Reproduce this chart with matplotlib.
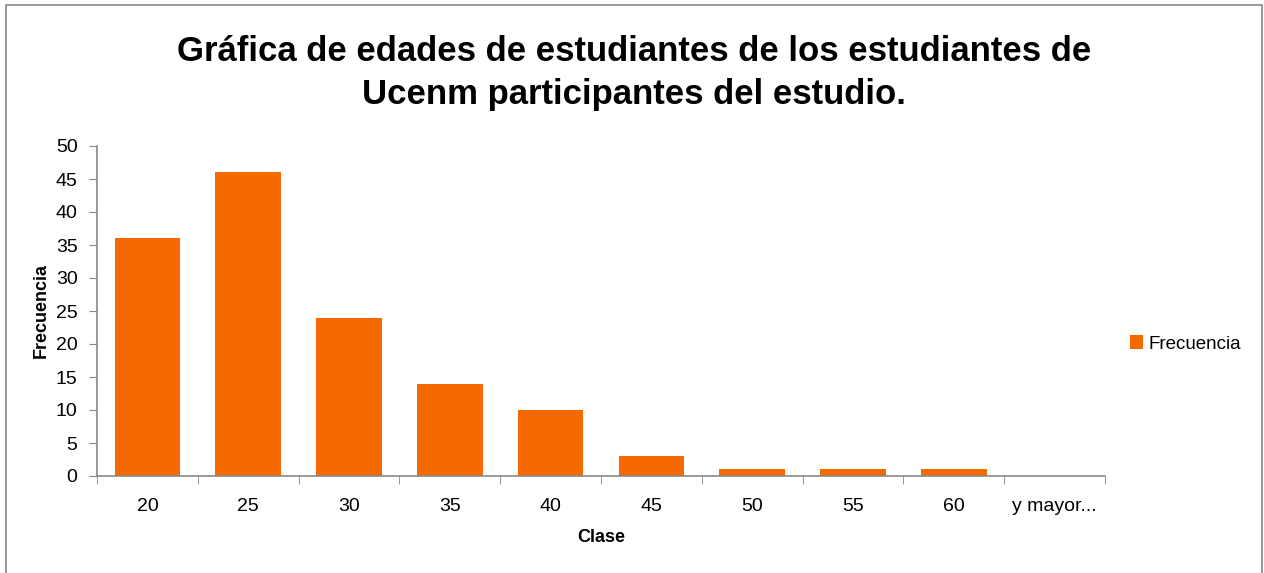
import matplotlib.pyplot as plt
from matplotlib.patches import Rectangle
import numpy as np

plt.rcParams['font.family'] = ['Liberation Sans Narrow', 'Liberation Sans', 'DejaVu Sans']

clases = ['20', '25', '30', '35', '40', '45', '50', '55', '60', 'y mayor...']
frecuencia = [36, 46, 24, 14, 10, 3, 1, 1, 1, 0]

naranja = '#F56A00'
gris = '#898989'

fig = plt.figure(figsize=(12.64, 5.73), dpi=100)
fig.patches.append(Rectangle((6/1264, -0.01), (1262-6)/1264, 1 - 5/573 + 0.01,
                             transform=fig.transFigure, fill=False,
                             edgecolor=gris, linewidth=1.2))

ax = fig.add_axes([97/1264, (573-476)/573, (1105-97)/1264, (476-146)/573])
x = np.arange(len(clases))
ax.bar(x, frecuencia, width=0.65, color=naranja, label='Frecuencia')

ax.set_xlim(-0.5, len(clases) - 0.5)
ax.set_ylim(0, 50)
ax.set_yticks(range(0, 51, 5))
ax.set_xticks(x)
ax.set_xticklabels(clases)
ax.set_xticks(np.arange(-0.5, len(clases)), minor=True)
ax.tick_params(axis='x', which='major', length=0, pad=16, labelsize=14)
ax.tick_params(axis='x', which='minor', length=6, color=gris, direction='out')
ax.tick_params(axis='y', length=6, color=gris, labelsize=14, pad=8)

for s in ['top', 'right']:
    ax.spines[s].set_visible(False)
for s in ['left', 'bottom']:
    ax.spines[s].set_color(gris)
    ax.spines[s].set_linewidth(1.2)

ax.set_xlabel('Clase', fontsize=13, fontweight='bold', labelpad=10)
ax.set_ylabel('Frecuencia', fontsize=13, fontweight='bold', labelpad=4)

fig.text(634/1264, 1 - 73/573,
         'Gráfica de edades de estudiantes de los estudiantes de\nUcenm participantes del estudio.',
         ha='center', va='center', fontsize=25, fontweight='bold', linespacing=1.4)

ax.legend(loc='center left', bbox_to_anchor=(1.008, 0.4), frameon=False,
          fontsize=13.5, handlelength=0.7, handleheight=0.7, handletextpad=0.3)

fig.savefig('out.png', dpi=100)
